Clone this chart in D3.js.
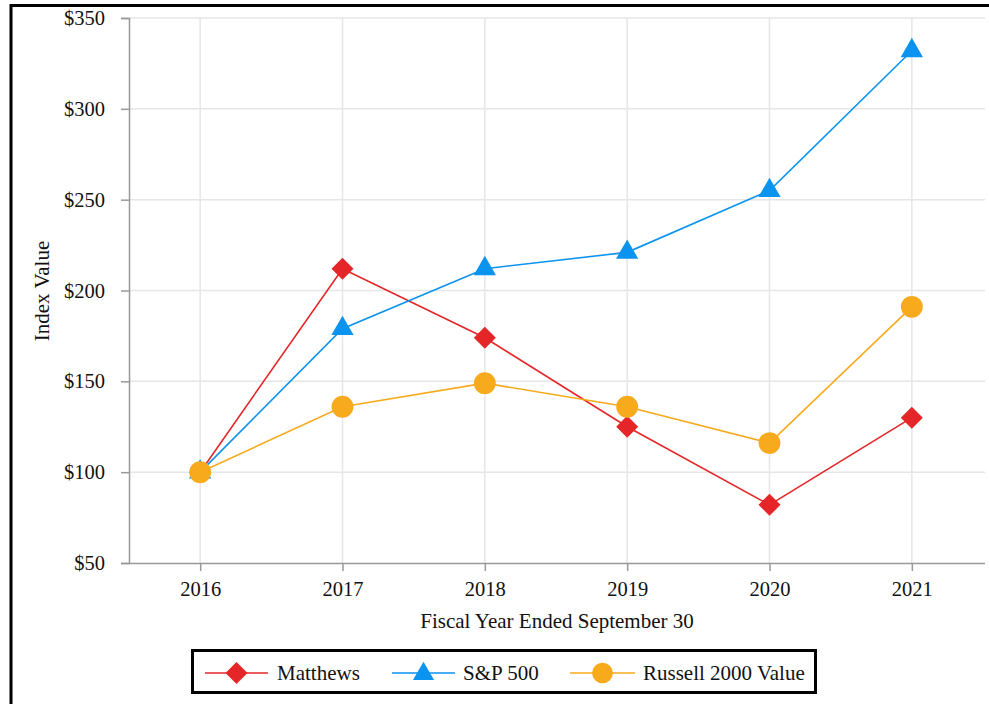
<!DOCTYPE html>
<html>
<head>
<meta charset="utf-8">
<script src="https://cdn.jsdelivr.net/npm/d3@7"></script>
<style>
  html, body { margin: 0; padding: 0; background: #fff; }
  svg { display: block; }
  text { font-family: "Liberation Serif", "Times New Roman", serif; fill: #111; }
</style>
</head>
<body>
<svg id="chart" width="989" height="704"></svg>
<script>
const years = ["2016", "2017", "2018", "2019", "2020", "2021"];
const matthews = [100, 212, 174, 125, 82, 130];
const sp500 = [100, 179, 212, 221, 255, 332];
const russell = [100, 136, 149, 136, 116, 191];
const yTicks = [50, 100, 150, 200, 250, 300, 350];
const seriesNames = ["Matthews", "S&P 500", "Russell 2000 Value"];

const colors = { "Matthews": "#e52628", "S&P 500": "#0b93f0", "Russell 2000 Value": "#f8aa1d" };
const symbols = { "Matthews": "diamond", "S&P 500": "triangle", "Russell 2000 Value": "circle" };

const series = [
  { name: seriesNames[0], values: matthews },
  { name: seriesNames[1], values: sp500 },
  { name: seriesNames[2], values: russell }
];

const svg = d3.select("#chart");

// outer frame
svg.append("rect").attr("x", 11).attr("y", 5.5).attr("width", 1000).attr("height", 720)
  .attr("fill", "none").attr("stroke", "#000").attr("stroke-width", 3);

const pLeft = 129, pRight = 983, pTop = 18, pBottom = 563;
const x = d3.scalePoint().domain(years).range([pLeft, pRight]).padding(0.5);
const y = d3.scaleLinear().domain([50, 350]).range([pBottom, pTop]);

// gridlines
const grid = svg.append("g");
grid.selectAll("line.h").data(yTicks.slice(1)).join("line").attr("class", "h")
  .attr("x1", pLeft).attr("x2", 985).attr("y1", d => y(d)).attr("y2", d => y(d))
  .attr("stroke", "#e6e6e6").attr("stroke-width", 1.5);
grid.selectAll("line.v").data(years).join("line").attr("class", "v")
  .attr("x1", d => x(d)).attr("x2", d => x(d)).attr("y1", pTop).attr("y2", pBottom)
  .attr("stroke", "#e6e6e6").attr("stroke-width", 1.5);

// axes
const yAxis = svg.append("g").attr("transform", `translate(${pLeft},0)`)
  .call(d3.axisLeft(y).tickValues(yTicks).tickFormat(d => "$" + d).tickSize(8).tickPadding(16));
const xAxis = svg.append("g").attr("transform", `translate(0,${pBottom})`)
  .call(d3.axisBottom(x).tickSize(8).tickPadding(10));
[yAxis, xAxis].forEach(a => {
  a.select(".domain").attr("stroke", "#999").attr("stroke-width", 1.5);
  a.selectAll(".tick line").attr("stroke", "#999").attr("stroke-width", 1.5);
  a.selectAll(".tick text").attr("font-size", 20.5).attr("font-family", "Liberation Serif").attr("fill", "#111");
});
xAxis.select(".domain").attr("d", `M${pLeft},0.5H985`);

// axis titles
svg.append("text").attr("transform", "translate(49,291) rotate(-90)")
  .attr("text-anchor", "middle").attr("font-size", 21).text("Index Value");
svg.append("text").attr("x", 557).attr("y", 628)
  .attr("text-anchor", "middle").attr("font-size", 21).text("Fiscal Year Ended September 30");

function symPath(type, scale) {
  if (type === "diamond") return d3.symbol(d3.symbolSquare, 242 * scale)();
  if (type === "triangle") return d3.symbol(d3.symbolTriangle, 215 * scale)();
  return d3.symbol(d3.symbolCircle, 375 * scale)();
}

const line = d3.line().x((d, i) => x(years[i])).y(d => y(d));

series.forEach(s => {
  const g = svg.append("g");
  g.append("path").attr("d", line(s.values)).attr("fill", "none")
    .attr("stroke", colors[s.name]).attr("stroke-width", 1.6);
  g.selectAll("path.m").data(s.values).join("path").attr("class", "m")
    .attr("d", symPath(symbols[s.name], 1))
    .attr("transform", (d, i) => `translate(${x(years[i])},${y(d)})` + (symbols[s.name] === "diamond" ? " rotate(45)" : ""))
    .attr("fill", colors[s.name]);
});

// legend
const lg = svg.append("g");
lg.append("rect").attr("x", 192.5).attr("y", 650.5).attr("width", 623).attr("height", 42)
  .attr("fill", "#fff").attr("stroke", "#000").attr("stroke-width", 3);
const legendItems = [
  { name: seriesNames[0], x1: 205, x2: 268, tx: 277 },
  { name: seriesNames[1], x1: 392, x2: 455, tx: 463 },
  { name: seriesNames[2], x1: 570, x2: 635, tx: 643 }
];
const ly = 673;
legendItems.forEach(it => {
  lg.append("line").attr("x1", it.x1).attr("x2", it.x2).attr("y1", ly).attr("y2", ly)
    .attr("stroke", colors[it.name]).attr("stroke-width", 1.6);
  const t = symbols[it.name];
  lg.append("path").attr("d", symPath(t, t === "diamond" ? 1 : 0.9))
    .attr("transform", `translate(${(it.x1 + it.x2) / 2},${ly + (t === "triangle" ? 1 : 0)})` + (t === "diamond" ? " rotate(45)" : ""))
    .attr("fill", colors[it.name]);
  lg.append("text").attr("x", it.tx).attr("y", ly + 7).attr("font-size", 21).text(it.name);
});
</script>
</body>
</html>
